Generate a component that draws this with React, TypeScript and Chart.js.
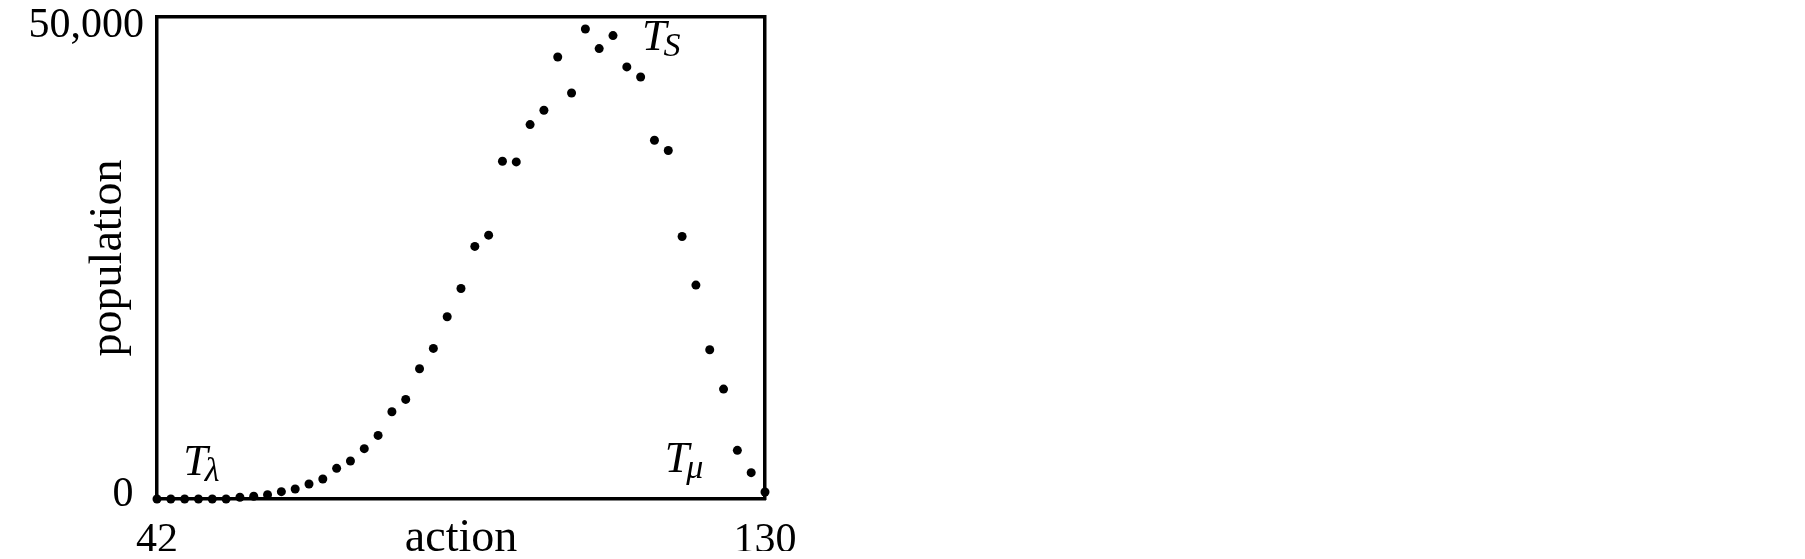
import React, { useEffect, useRef } from "react";
import { Chart, registerables } from "chart.js";

Chart.register(...registerables);

// action values (x) and population values (y)
const ACTION = [
  42, 44, 46, 48, 50, 52, 54, 56, 58, 60, 62, 64, 66, 68, 70, 72, 74, 76, 78, 80, 82, 84, 86,
  88, 90, 92, 94, 96, 98, 100, 102, 104, 106, 108, 110, 112, 114, 116, 118, 120, 122, 124, 126, 128, 130,
];
const POPULATION = [
  0, 0, 0, 0, 0, 0, 180, 280, 450, 760, 1040, 1555, 2070, 3180, 3940, 5220, 6600, 9050, 10330, 13510,
  15620, 18900, 21840, 26200, 27370, 35040, 34970, 38840, 40330, 45850, 42120, 48760, 46720, 48070,
  44820, 43780, 37220, 36150, 27230, 22190, 15480, 11400, 5050, 2730, 730,
];
const X_TICKS = [42, 130];
const Y_TICKS = [0, 50000];

// annotation labels (main letter, subscript) anchored in data space
const ANNOT_MAIN = ["T", "T", "T"];
const ANNOT_SUB = ["λ", "S", "μ"];
const ANNOT_X = [45.8, 112.2, 115.5];
const ANNOT_Y = [2490, 46550, 2800];

const FONT = '"Liberation Serif", "DejaVu Serif", serif';

const annotPlugin = {
  id: "annots",
  afterDatasetsDraw(chart: any) {
    const { ctx } = chart;
    const xs = chart.scales.x;
    const ys = chart.scales.y;
    ctx.save();
    ctx.fillStyle = "#000";
    ctx.textBaseline = "alphabetic";
    ctx.textAlign = "left";
    for (let i = 0; i < ANNOT_MAIN.length; i++) {
      const px = xs.getPixelForValue(ANNOT_X[i]);
      const py = ys.getPixelForValue(ANNOT_Y[i]);
      ctx.font = `italic 44px ${FONT}`;
      ctx.fillText(ANNOT_MAIN[i], px, py);
      const w = ctx.measureText(ANNOT_MAIN[i]).width;
      ctx.font = `italic 34px ${FONT}`;
      ctx.fillText(ANNOT_SUB[i], px + w - 3, py + 6);
    }
    ctx.restore();
  },
};

export default function App() {
  const ref = useRef<HTMLCanvasElement | null>(null);

  useEffect(() => {
    if (!ref.current) return;
    const chart = new Chart(ref.current, {
      type: "scatter",
      data: {
        datasets: [
          {
            data: ACTION.map((a, i) => ({ x: a, y: POPULATION[i] })),
            backgroundColor: "#000",
            borderColor: "#000",
            pointRadius: 4.5,
            pointBorderWidth: 0,
            showLine: false,
            clip: false,
          } as any,
        ],
      },
      options: {
        animation: false,
        responsive: false,
        devicePixelRatio: 1,
        layout: { padding: { left: 0, top: 9, right: 1032, bottom: 0 } },
        plugins: { legend: { display: false }, tooltip: { enabled: false } },
        scales: {
          x: {
            type: "linear",
            position: "bottom",
            min: 42,
            max: 130,
            grid: { display: false, drawTicks: false },
            border: { display: true, color: "#000", width: 3.5 },
            afterBuildTicks: (s: any) => {
              s.ticks = X_TICKS.map((v) => ({ value: v }));
            },
            afterFit: (s: any) => {
              s.height = 52;
              s.paddingLeft = 0;
              s.paddingRight = 0;
            },
            ticks: {
              autoSkip: false,
              maxRotation: 0,
              padding: 17,
              color: "#000",
              font: { family: FONT, size: 42 },
              callback: (v: any) => String(v),
            },
            title: {
              display: true,
              text: "action",
              color: "#000",
              font: { family: FONT, size: 46, lineHeight: 0.54 },
              padding: 0,
            },
          },
          y: {
            type: "linear",
            position: "left",
            min: 0,
            max: 50000,
            grid: { display: false, drawTicks: false },
            border: { display: true, color: "#000", width: 3.5 },
            afterBuildTicks: (s: any) => {
              s.ticks = Y_TICKS.map((v) => ({ value: v }));
            },
            afterFit: (s: any) => {
              s.width = 149;
              s.paddingTop = 0;
              s.paddingBottom = 0;
            },
            ticks: {
              autoSkip: false,
              padding: 13,
              color: "#000",
              font: (c: any) => ({
                family: FONT,
                size: 42,
                lineHeight: c.tick && c.tick.value === 50000 ? "18px" : "8px",
              }),
              callback: (v: any) => {
                const s = Number(v).toLocaleString("en-US");
                return Number(v) === 50000 ? ["", s] : [s + "\u2008", ""];
              },
            },
            title: {
              display: true,
              text: "population",
              color: "#000",
              font: { family: FONT, size: 46, lineHeight: 0.75 },
              padding: { top: 84, bottom: 0 },
            },
          },
          x2: {
            type: "linear",
            position: "top",
            grid: { display: false, drawTicks: false },
            ticks: { display: false },
            border: { display: true, color: "#000", width: 3.5 },
            afterFit: (s: any) => {
              s.height = 0;
              s.paddingLeft = 0;
              s.paddingRight = 0;
            },
          },
          y2: {
            type: "linear",
            position: "right",
            grid: { display: false, drawTicks: false },
            ticks: { display: false },
            border: { display: true, color: "#000", width: 3.5 },
            afterFit: (s: any) => {
              s.width = 0;
              s.paddingTop = 0;
              s.paddingBottom = 0;
            },
          },
        },
      },
      plugins: [annotPlugin],
    });
    return () => chart.destroy();
  }, []);

  return (
    <canvas
      ref={ref}
      width={1789}
      height={543}
      style={{ display: "block", width: "1789px", height: "543px" }}
    />
  );
}
